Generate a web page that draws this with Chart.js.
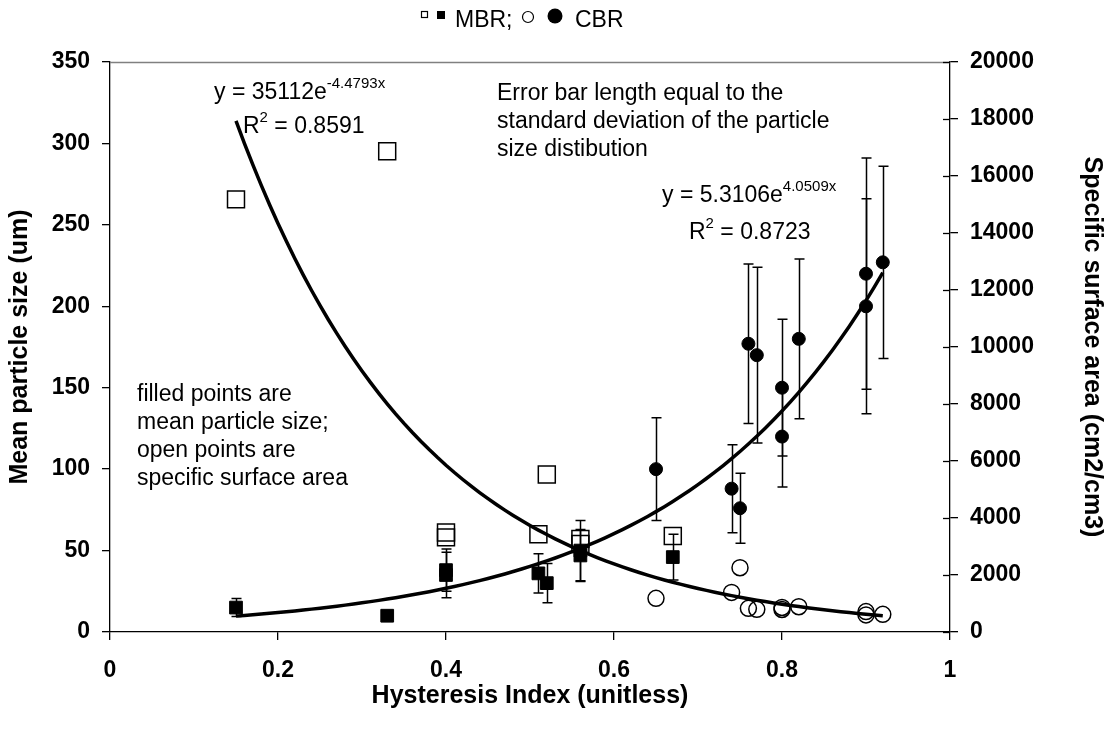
<!DOCTYPE html>
<html>
<head>
<meta charset="utf-8">
<title>Hysteresis index vs particle size</title>
<script src="https://cdn.jsdelivr.net/npm/chart.js@4.4.0/dist/chart.umd.min.js"></script>
<style>
    html, body { margin: 0; padding: 0; background: #ffffff; }
    #wrap { width: 1111px; height: 729px; }
</style>
</head>
<body>
<div id="wrap"><canvas id="chart" width="1111" height="729"></canvas></div>
<script>
// MBR samples: hysteresis index, mean particle size (um) with its std. dev.,
// and specific surface area (cm2/cm3)
const mbrIndex  = [0.15, 0.33, 0.40, 0.40, 0.51, 0.52, 0.56, 0.56, 0.67];
const mbrSize   = [15, 10, 38, 35, 36, 30, 50, 47, 46];
const mbrSizeSd = [5.5, 2, 13, 14, 12, 12, 18.5, 16, 14];
const mbrArea   = [15180, 16870, 3490, 3320, 3430, 5530, 3260, 3090, 3370];

// CBR samples
const cbrIndex  = [0.65, 0.74, 0.75, 0.76, 0.77, 0.80, 0.80, 0.82, 0.90, 0.90, 0.92];
const cbrSize   = [100, 88, 76, 177, 170, 150, 120, 180, 220, 200, 227];
const cbrSizeSd = [31.5, 27, 21.5, 49, 54, 42, 31, 49, 71, 66, 59];
const cbrArea   = [1180, 1390, 2255, 830, 795, 790, 860, 887, 715, 600, 620];

// exponential trendlines y = a * e^(b x), as printed on the chart
const sizeFit = { a: 5.3106, b: 4.0509, r2: "0.8723" };
const areaFit = { a: 35112, b: -4.4793, r2: "0.8591" };
const fitFrom = 0.15;
const fitTo = 0.92;

const xTicks = [0, 0.2, 0.4, 0.6, 0.8, 1];

const FONT = "'Liberation Sans', Arial, sans-serif";

const toPoints = (xs, ys) => xs.map((x, i) => ({ x, y: ys[i] }));

function fitPoints(fit) {
    const pts = [];
    for (let i = 0; i <= 77; i++) {
        const x = fitFrom + (fitTo - fitFrom) * i / 77;
        pts.push({ x, y: fit.a * Math.exp(fit.b * x) });
    }
    return pts;
}

// vertical error bars with caps, drawn under the markers
const errorBars = {
    id: "errorBars",
    beforeDatasetsDraw(chart) {
        const { ctx, scales } = chart;
        ctx.save();
        ctx.strokeStyle = "#000";
        ctx.lineWidth = 1.5;
        chart.data.datasets.forEach(ds => {
            if (!ds.sd) return;
            const y = scales[ds.yAxisID];
            ds.data.forEach((p, i) => {
                const px = Math.round(scales.x.getPixelForValue(p.x)) + 0.5;
                const top = y.getPixelForValue(p.y + ds.sd[i]);
                const bot = y.getPixelForValue(p.y - ds.sd[i]);
                ctx.beginPath();
                ctx.moveTo(px, top);
                ctx.lineTo(px, bot);
                ctx.moveTo(px - 5, top);
                ctx.lineTo(px + 5, top);
                ctx.moveTo(px - 5, bot);
                ctx.lineTo(px + 5, bot);
                ctx.stroke();
            });
        });
        ctx.restore();
    }
};

// text with a raised exponent part, e.g. "y = 35112e" + "-4.4793x"
function supText(ctx, x, y, base, sup, tail) {
    ctx.font = `23px ${FONT}`;
    ctx.fillText(base, x, y);
    let cx = x + ctx.measureText(base).width;
    ctx.font = `15px ${FONT}`;
    ctx.fillText(sup, cx, y - 9);
    cx += ctx.measureText(sup).width;
    if (tail) {
        ctx.font = `23px ${FONT}`;
        ctx.fillText(tail, cx, y);
    }
}

const decorations = {
    id: "decorations",
    afterDraw(chart) {
        const { ctx, chartArea: area, scales } = chart;
        ctx.save();

        // thin frame line along the top of the plot
        ctx.strokeStyle = "#808080";
        ctx.lineWidth = 1.5;
        ctx.beginPath();
        ctx.moveTo(area.left, area.top + 0.5);
        ctx.lineTo(area.right, area.top + 0.5);
        ctx.stroke();

        // right axis ticks cross into the plot
        ctx.strokeStyle = "#000";
        ctx.lineWidth = 1.3;
        scales.y1.ticks.forEach(t => {
            const py = Math.round(scales.y1.getPixelForValue(t.value)) + 0.5;
            ctx.beginPath();
            ctx.moveTo(area.right - 7, py);
            ctx.lineTo(area.right, py);
            ctx.stroke();
        });

        ctx.fillStyle = "#000";
        ctx.textBaseline = "middle";
        ctx.textAlign = "left";

        // legend: open/filled squares for MBR, open/filled circles for CBR
        ctx.lineWidth = 1.2;
        ctx.strokeRect(421.5, 11.5, 6, 6);
        ctx.fillRect(437, 11, 8, 8);
        ctx.font = `23px ${FONT}`;
        ctx.fillText("MBR;", 455, 21);
        ctx.beginPath();
        ctx.arc(528, 17, 5.5, 0, Math.PI * 2);
        ctx.stroke();
        ctx.beginPath();
        ctx.arc(555, 16, 7.5, 0, Math.PI * 2);
        ctx.fill();
        ctx.fillText("CBR", 575, 21);

        // trendline equations
        supText(ctx, 214, 93, "y = " + areaFit.a + "e", String(areaFit.b) + "x");
        supText(ctx, 243, 127, "R", "2", " = " + areaFit.r2);
        supText(ctx, 662, 196, "y = " + sizeFit.a + "e", String(sizeFit.b) + "x");
        supText(ctx, 689, 233, "R", "2", " = " + sizeFit.r2);

        // notes
        ctx.font = `23px ${FONT}`;
        ["Error bar length equal to the",
         "standard deviation of the particle",
         "size distibution"].forEach((s, i) => ctx.fillText(s, 497, 94 + i * 28));
        ["filled points are",
         "mean particle size;",
         "open points are",
         "specific surface area"].forEach((s, i) => ctx.fillText(s, 137, 395 + i * 28));

        ctx.restore();
    }
};

const tickFont = { family: FONT, size: 23, weight: "bold" };
const titleFont = { family: FONT, size: 25, weight: "bold" };
const axisLine = { color: "#000", width: 1.3 };
const tickMarks = { drawOnChartArea: false, drawTicks: true, tickLength: 8, color: "#000", lineWidth: 1.3 };

new Chart(document.getElementById("chart"), {
    type: "scatter",
    data: {
        datasets: [
            {
                label: "size fit",
                data: fitPoints(sizeFit),
                yAxisID: "y",
                showLine: true,
                borderColor: "#000",
                borderWidth: 3.5,
                pointRadius: 0,
                order: 0
            },
            {
                label: "area fit",
                data: fitPoints(areaFit),
                yAxisID: "y1",
                showLine: true,
                borderColor: "#000",
                borderWidth: 3.5,
                pointRadius: 0,
                order: 0
            },
            {
                label: "MBR size",
                data: toPoints(mbrIndex, mbrSize),
                sd: mbrSizeSd,
                yAxisID: "y",
                pointStyle: "rect",
                pointRadius: 9,
                backgroundColor: "#000",
                borderColor: "#000",
                borderWidth: 1,
                order: 2
            },
            {
                label: "MBR area",
                data: toPoints(mbrIndex, mbrArea),
                yAxisID: "y1",
                pointStyle: "rect",
                pointRadius: 12,
                backgroundColor: "rgba(0,0,0,0)",
                borderColor: "#000",
                borderWidth: 1.5,
                order: 1
            },
            {
                label: "CBR size",
                data: toPoints(cbrIndex, cbrSize),
                sd: cbrSizeSd,
                yAxisID: "y",
                pointStyle: "circle",
                pointRadius: 6.5,
                backgroundColor: "#000",
                borderColor: "#000",
                borderWidth: 1,
                order: 2
            },
            {
                label: "CBR area",
                data: toPoints(cbrIndex, cbrArea),
                yAxisID: "y1",
                pointStyle: "circle",
                pointRadius: 8,
                backgroundColor: "rgba(0,0,0,0)",
                borderColor: "#000",
                borderWidth: 1.5,
                order: 1
            }
        ]
    },
    options: {
        responsive: false,
        animation: false,
        layout: { padding: { top: 62, left: 0, right: 0, bottom: 0 } },
        plugins: {
            legend: { display: false },
            tooltip: { enabled: false }
        },
        scales: {
            x: {
                type: "linear",
                min: 0,
                max: 1,
                afterBuildTicks(scale) {
                    scale.ticks = xTicks.map(v => ({ value: v }));
                },
                ticks: {
                    color: "#000",
                    font: tickFont,
                    padding: 17,
                    callback: v => String(Number(v.toFixed(1)))
                },
                grid: tickMarks,
                border: axisLine,
                title: {
                    display: true,
                    text: "Hysteresis Index (unitless)",
                    color: "#000",
                    font: titleFont,
                    padding: { top: 0, bottom: 18 }
                },
                afterFit(scale) { scale.height = 97; }
            },
            y: {
                position: "left",
                min: 0,
                max: 350,
                ticks: { stepSize: 50, color: "#000", font: tickFont, padding: 12 },
                grid: tickMarks,
                border: axisLine,
                title: {
                    display: true,
                    text: "Mean particle size (um)",
                    color: "#000",
                    font: titleFont,
                    padding: { top: 5, bottom: 0 }
                },
                afterFit(scale) { scale.width = 110; }
            },
            y1: {
                position: "right",
                min: 0,
                max: 20000,
                ticks: {
                    stepSize: 2000,
                    color: "#000",
                    font: tickFont,
                    padding: 12,
                    callback: v => String(v)
                },
                grid: tickMarks,
                border: axisLine,
                title: {
                    display: true,
                    text: "Specific surface area (cm2/cm3)",
                    color: "#000",
                    font: titleFont,
                    padding: { top: 4, bottom: 0 }
                },
                afterFit(scale) { scale.width = 161; }
            }
        }
    },
    plugins: [errorBars, decorations]
});
</script>
</body>
</html>
